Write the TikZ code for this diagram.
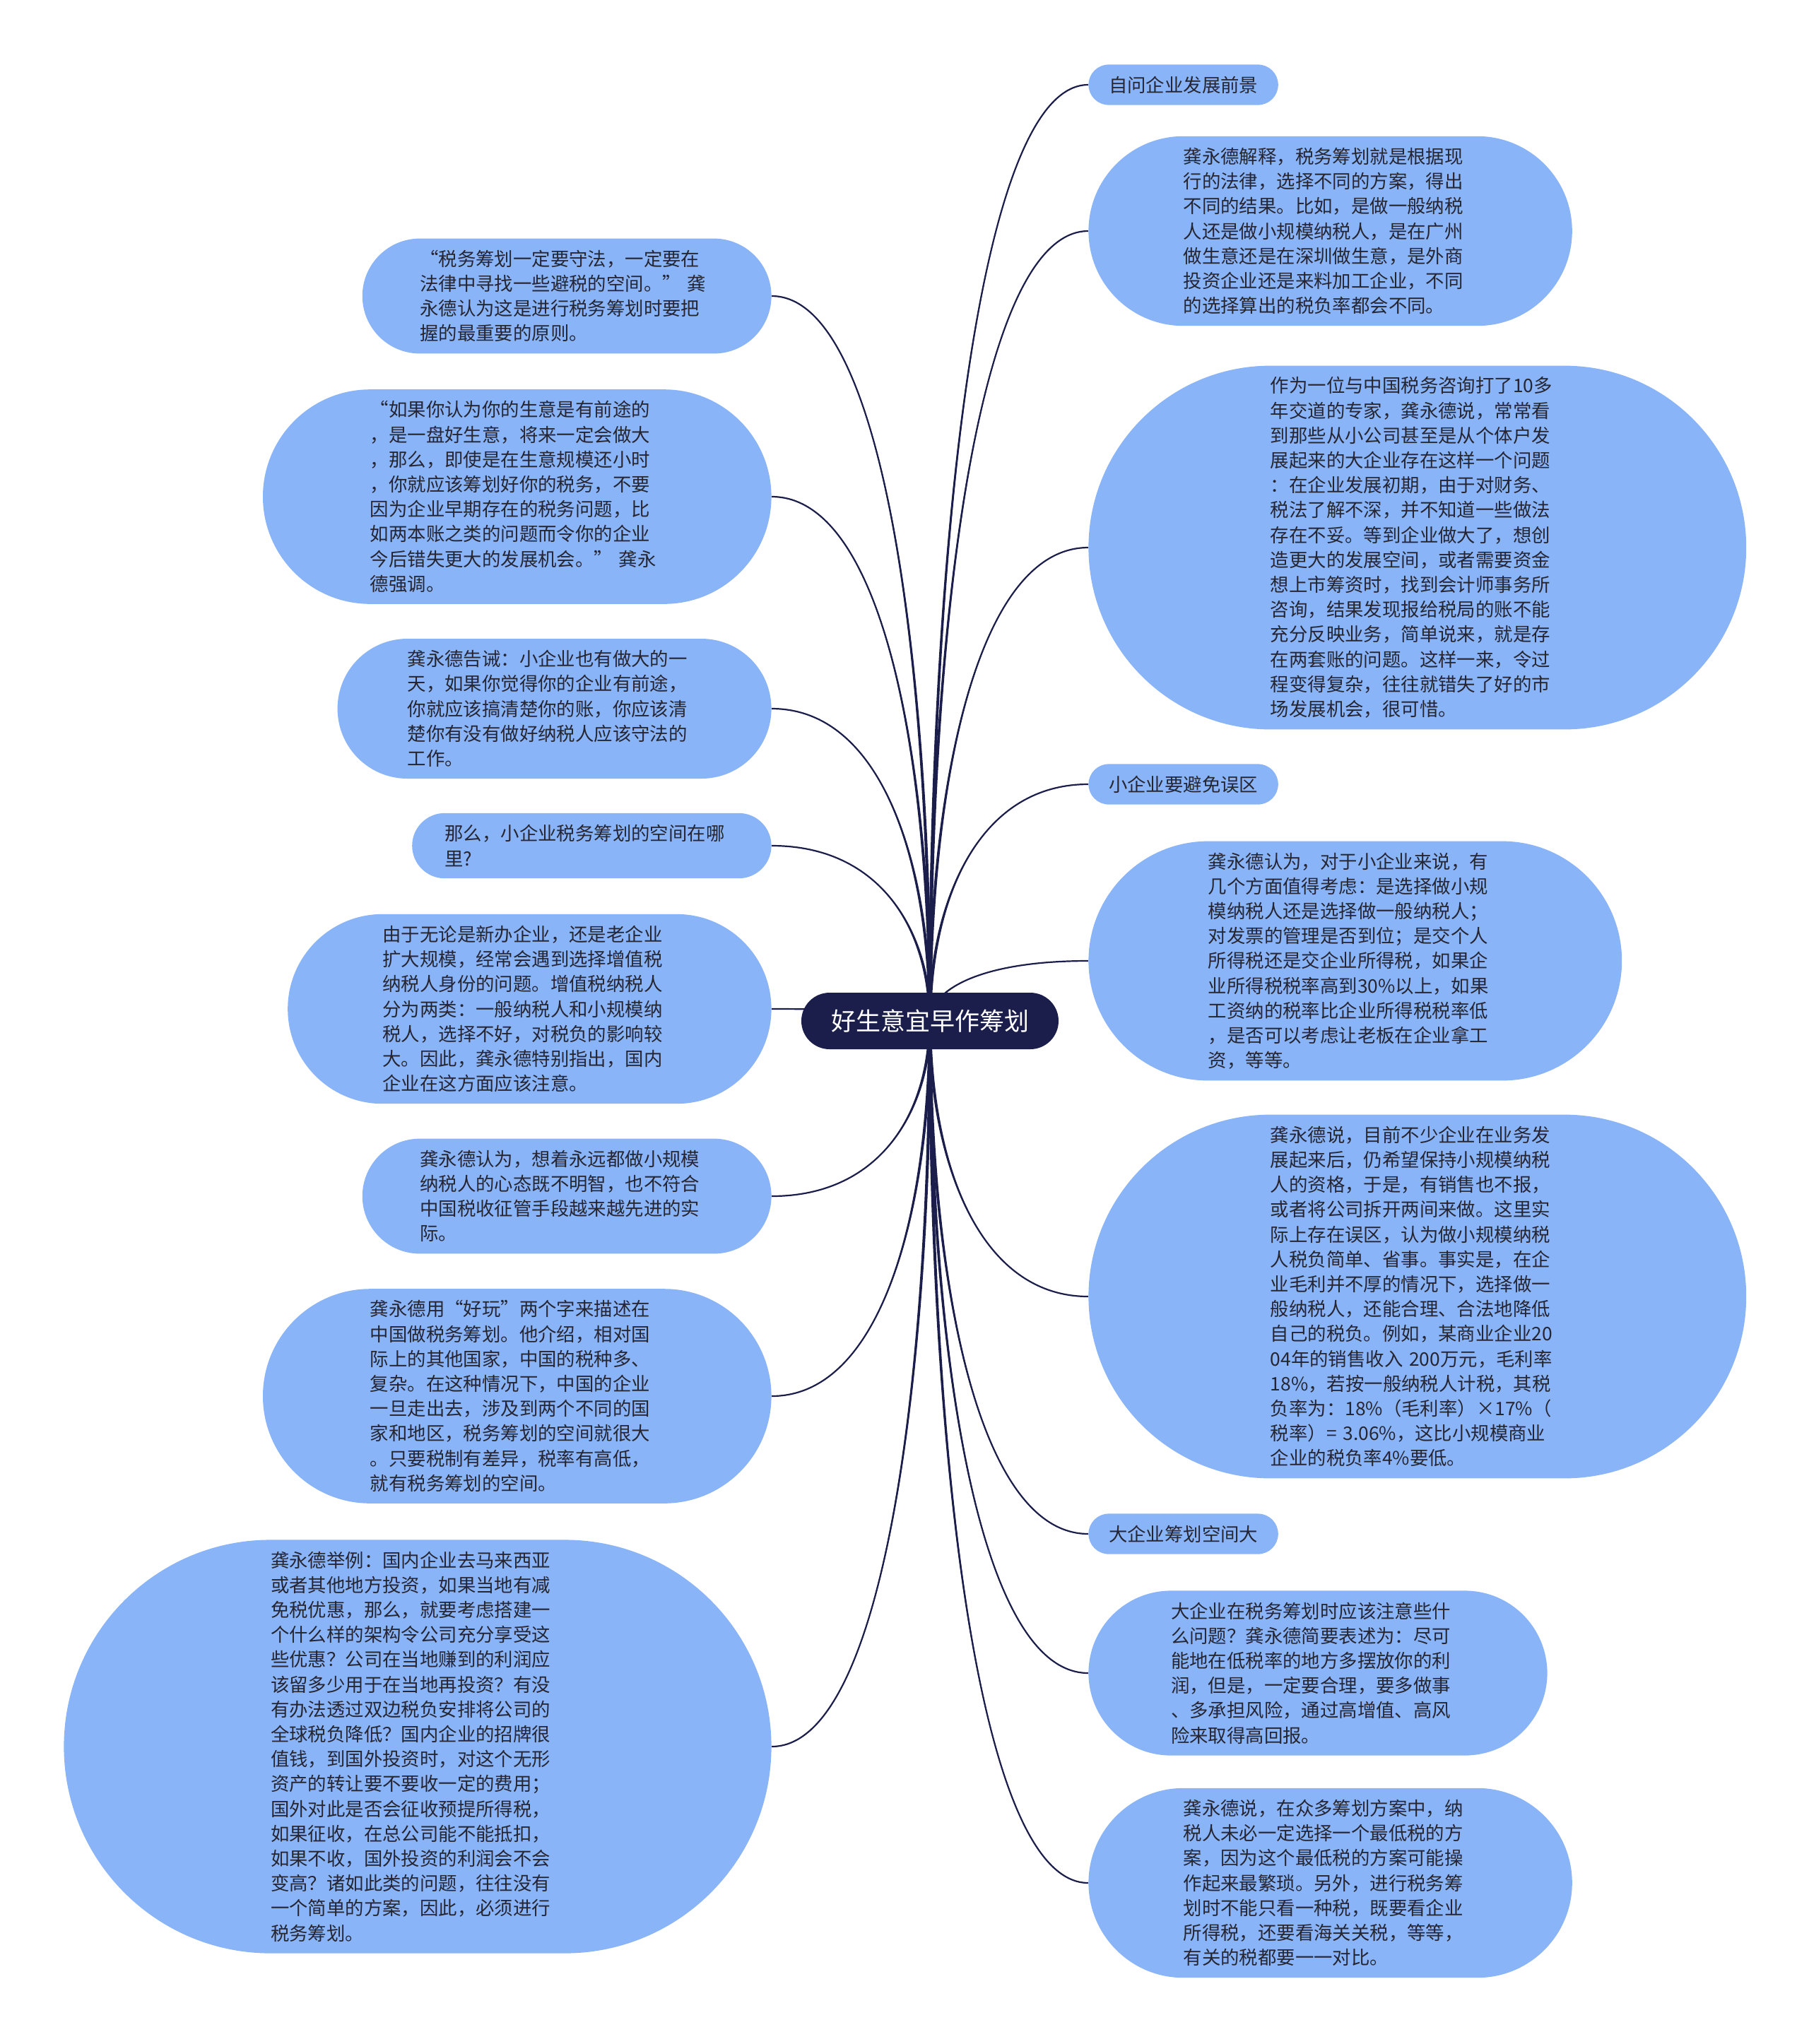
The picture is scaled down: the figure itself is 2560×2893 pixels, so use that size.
\documentclass[tikz,border=0pt]{standalone}
\usepackage{fontspec}
\setmainfont{Noto Sans CJK SC}
\usetikzlibrary{backgrounds,calc}
\definecolor{leafblue}{RGB}{138,180,248}
\definecolor{navy}{RGB}{27,30,75}
\definecolor{txtc}{RGB}{38,38,50}
\begin{document}
\begin{tikzpicture}[x=0.5pt,y=-0.5pt,
  leaf/.style={fill=leafblue,text=txtc,align=left,inner ysep=0pt,font=\fontsize{13.2pt}{17.6pt}\selectfont},
  ln1/.style={minimum height=28.6pt,inner xsep=14.3pt,rounded corners=14.3pt},
  ln2/.style={text width=208pt,minimum height=46.2pt,inner xsep=23.1pt,rounded corners=23.1pt},
  ln4/.style={text width=208pt,minimum height=81.4pt,inner xsep=40.7pt,rounded corners=40.7pt},
  ln5/.style={text width=208pt,minimum height=99pt,inner xsep=49.5pt,rounded corners=49.5pt},
  ln6/.style={text width=208pt,minimum height=116.6pt,inner xsep=58.3pt,rounded corners=58.3pt},
  ln7/.style={text width=208pt,minimum height=134.2pt,inner xsep=67.1pt,rounded corners=67.1pt},
  ln8/.style={text width=208pt,minimum height=151.8pt,inner xsep=75.9pt,rounded corners=75.9pt},
  ln9/.style={text width=208pt,minimum height=169.4pt,inner xsep=84.7pt,rounded corners=84.7pt},
  ln14/.style={text width=208pt,minimum height=257.4pt,inner xsep=128.7pt,rounded corners=128.7pt},
  ln16/.style={text width=208pt,minimum height=292.6pt,inner xsep=146.3pt,rounded corners=146.3pt},
  rgt/.style={leaf,anchor=west},
  lft/.style={leaf,anchor=east},
  link/.style={draw=navy,line width=1.1pt}]
\useasboundingbox (0,0) rectangle (2560,2893);

\node[fill=navy,text=white,font=\fontsize{17.5pt}{21pt}\selectfont,minimum width=182pt,minimum height=40pt,rounded corners=20pt,inner sep=0pt] (c) at (1316,1445) {好生意宜早作筹划};

% right side
\node[rgt,ln1] (r1) at (1540,120) {自问企业发展前景};
\node[rgt,ln7] (r2) at (1540,327) {龚永德解释，税务筹划就是根据现\\
行的法律，选择不同的方案，得出\\
不同的结果。比如，是做一般纳税\\
人还是做小规模纳税人，是在广州\\
做生意还是在深圳做生意，是外商\\
投资企业还是来料加工企业，不同\\
的选择算出的税负率都会不同。};
\node[rgt,ln14] (r3) at (1540,775) {作为一位与中国税务咨询打了10多\\
年交道的专家，龚永德说，常常看\\
到那些从小公司甚至是从个体户发\\
展起来的大企业存在这样一个问题\\
：在企业发展初期，由于对财务、\\
税法了解不深，并不知道一些做法\\
存在不妥。等到企业做大了，想创\\
造更大的发展空间，或者需要资金\\
想上市筹资时，找到会计师事务所\\
咨询，结果发现报给税局的账不能\\
充分反映业务，简单说来，就是存\\
在两套账的问题。这样一来，令过\\
程变得复杂，往往就错失了好的市\\
场发展机会，很可惜。};
\node[rgt,ln1] (r4) at (1540,1110) {小企业要避免误区};
\node[rgt,ln9] (r5) at (1540,1360) {龚永德认为，对于小企业来说，有\\
几个方面值得考虑：是选择做小规\\
模纳税人还是选择做一般纳税人；\\
对发票的管理是否到位；是交个人\\
所得税还是交企业所得税，如果企\\
业所得税税率高到30\%以上，如果\\
工资纳的税率比企业所得税税率低\\
，是否可以考虑让老板在企业拿工\\
资，等等。};
\node[rgt,ln14] (r6) at (1540,1835) {龚永德说，目前不少企业在业务发\\
展起来后，仍希望保持小规模纳税\\
人的资格，于是，有销售也不报，\\
或者将公司拆开两间来做。这里实\\
际上存在误区，认为做小规模纳税\\
人税负简单、省事。事实是，在企\\
业毛利并不厚的情况下，选择做一\\
般纳税人，还能合理、合法地降低\\
自己的税负。例如，某商业企业20\\
04年的销售收入 200万元，毛利率\\
18\%，若按一般纳税人计税，其税\\
负率为：18\%（毛利率）×17\%（\\
税率）= 3.06\%，这比小规模商业\\
企业的税负率4\%要低。};
\node[rgt,ln1] (r7) at (1540,2171) {大企业筹划空间大};
\node[rgt,ln6] (r8) at (1540,2368) {大企业在税务筹划时应该注意些什\\
么问题？龚永德简要表述为：尽可\\
能地在低税率的地方多摆放你的利\\
润，但是，一定要合理，要多做事\\
、多承担风险，通过高增值、高风\\
险来取得高回报。};
\node[rgt,ln7] (r9) at (1540,2665) {龚永德说，在众多筹划方案中，纳\\
税人未必一定选择一个最低税的方\\
案，因为这个最低税的方案可能操\\
作起来最繁琐。另外，进行税务筹\\
划时不能只看一种税，既要看企业\\
所得税，还要看海关关税，等等，\\
有关的税都要一一对比。};

% left side
\node[lft,ln4] (l1) at (1092,419) {“税务筹划一定要守法，一定要在\\
法律中寻找一些避税的空间。” 龚\\
永德认为这是进行税务筹划时要把\\
握的最重要的原则。};
\node[lft,ln8] (l2) at (1092,703) {“如果你认为你的生意是有前途的\\
，是一盘好生意，将来一定会做大\\
，那么，即使是在生意规模还小时\\
，你就应该筹划好你的税务，不要\\
因为企业早期存在的税务问题，比\\
如两本账之类的问题而令你的企业\\
今后错失更大的发展机会。” 龚永\\
德强调。};
\node[lft,ln5] (l3) at (1092,1003) {龚永德告诫：小企业也有做大的一\\
天，如果你觉得你的企业有前途，\\
你就应该搞清楚你的账，你应该清\\
楚你有没有做好纳税人应该守法的\\
工作。};
\node[lft,ln2] (l4) at (1092,1197) {那么，小企业税务筹划的空间在哪\\
里?};
\node[lft,ln7] (l5) at (1092,1428) {由于无论是新办企业，还是老企业\\
扩大规模，经常会遇到选择增值税\\
纳税人身份的问题。增值税纳税人\\
分为两类：一般纳税人和小规模纳\\
税人，选择不好，对税负的影响较\\
大。因此，龚永德特别指出，国内\\
企业在这方面应该注意。};
\node[lft,ln4] (l6) at (1092,1693) {龚永德认为，想着永远都做小规模\\
纳税人的心态既不明智，也不符合\\
中国税收征管手段越来越先进的实\\
际。};
\node[lft,ln8] (l7) at (1092,1976) {龚永德用“好玩”两个字来描述在\\
中国做税务筹划。他介绍，相对国\\
际上的其他国家，中国的税种多、\\
复杂。在这种情况下，中国的企业\\
一旦走出去，涉及到两个不同的国\\
家和地区，税务筹划的空间就很大\\
。只要税制有差异，税率有高低，\\
就有税务筹划的空间。};
\node[lft,ln16] (l8) at (1092,2472) {龚永德举例：国内企业去马来西亚\\
或者其他地方投资，如果当地有减\\
免税优惠，那么，就要考虑搭建一\\
个什么样的架构令公司充分享受这\\
些优惠？公司在当地赚到的利润应\\
该留多少用于在当地再投资？有没\\
有办法透过双边税负安排将公司的\\
全球税负降低？国内企业的招牌很\\
值钱，到国外投资时，对这个无形\\
资产的转让要不要收一定的费用；\\
国外对此是否会征收预提所得税，\\
如果征收，在总公司能不能抵扣，\\
如果不收，国外投资的利润会不会\\
变高？诸如此类的问题，往往没有\\
一个简单的方案，因此，必须进行\\
税务筹划。};

\begin{pgfonlayer}{background}
\fill[white] (0,0) rectangle (2560,2893);
\foreach \t/\a in {r1/west,r2/west,r3/west,r4/west,r5/west,r6/west,r7/west,r8/west,r9/west,
                   l1/east,l2/east,l3/east,l4/east,l5/east,l6/east,l7/east,l8/east} {
  \coordinate (p1) at ($(c.center)!0.5!(c.center |- \t.\a)$);
  \coordinate (p2) at ($(c.center |- \t.\a)!0.3!(\t.\a)$);
  \fill[navy] ($(c.center)+(-2.2,0)$) .. controls ($(p1)+(-2.2,0)$) and (p2) .. (\t.\a)
     .. controls (p2) and ($(p1)+(2.2,0)$) .. ($(c.center)+(2.2,0)$) -- cycle;
  \draw[link] (c.center) .. controls (p1) and (p2) .. (\t.\a);
}
\end{pgfonlayer}
\end{tikzpicture}
\end{document}
